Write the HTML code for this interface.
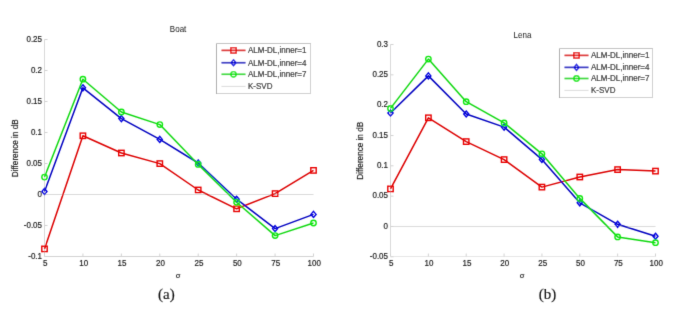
<!DOCTYPE html>
<html><head><meta charset="utf-8"><style>
html,body{margin:0;padding:0;background:#fff;}
svg{display:block;}
text{font-family:"Liberation Sans",sans-serif;font-size:8px;fill:#222;stroke:#222;stroke-width:0.18px;}
.ttl{stroke-width:0.02px;}
.cap{font-family:"Liberation Serif",serif;font-size:15px;fill:#111;stroke:#111;stroke-width:0.15px;}
</style></head><body>
<svg width="685" height="325" viewBox="0 0 685 325">
<defs><filter id="bl" filterUnits="userSpaceOnUse" x="0" y="0" width="685" height="325"><feConvolveMatrix order="3" kernelMatrix="1 8 1 8 64 8 1 8 1" divisor="100" edgeMode="none" preserveAlpha="false"/></filter></defs>
<rect width="685" height="325" fill="#fff"/>
<g filter="url(#bl)">
<line x1="44.5" y1="194.5" x2="313.5" y2="194.5" stroke="#dadada" stroke-width="1"/>
<path d="M44.5 39.5 V256.5" fill="none" stroke="#d8d8d8" stroke-width="1"/>
<path d="M44.5 256.5 H313.5" fill="none" stroke="#d2d2d2" stroke-width="1"/>
<line x1="44.5" y1="39.5" x2="47.5" y2="39.5" stroke="#d2d2d2" stroke-width="1"/>
<text transform="translate(42.00 41.70) scale(1.0 1.12)" text-anchor="end">0.25</text>
<line x1="44.5" y1="70.5" x2="47.5" y2="70.5" stroke="#d2d2d2" stroke-width="1"/>
<text transform="translate(42.00 72.70) scale(1.0 1.12)" text-anchor="end">0.2</text>
<line x1="44.5" y1="101.5" x2="47.5" y2="101.5" stroke="#d2d2d2" stroke-width="1"/>
<text transform="translate(42.00 103.70) scale(1.0 1.12)" text-anchor="end">0.15</text>
<line x1="44.5" y1="132.5" x2="47.5" y2="132.5" stroke="#d2d2d2" stroke-width="1"/>
<text transform="translate(42.00 134.70) scale(1.0 1.12)" text-anchor="end">0.1</text>
<line x1="44.5" y1="163.5" x2="47.5" y2="163.5" stroke="#d2d2d2" stroke-width="1"/>
<text transform="translate(42.00 165.70) scale(1.0 1.12)" text-anchor="end">0.05</text>
<line x1="44.5" y1="194.5" x2="47.5" y2="194.5" stroke="#d2d2d2" stroke-width="1"/>
<text transform="translate(42.00 196.70) scale(1.0 1.12)" text-anchor="end">0</text>
<line x1="44.5" y1="225.5" x2="47.5" y2="225.5" stroke="#d2d2d2" stroke-width="1"/>
<text transform="translate(42.00 227.70) scale(1.0 1.12)" text-anchor="end">-0.05</text>
<line x1="44.5" y1="256.5" x2="47.5" y2="256.5" stroke="#d2d2d2" stroke-width="1"/>
<text transform="translate(42.00 258.70) scale(1.0 1.12)" text-anchor="end">-0.1</text>
<line x1="44.5" y1="256.5" x2="44.5" y2="253.5" stroke="#d2d2d2" stroke-width="1"/>
<text transform="translate(45.20 265.90) scale(1.0 1.12)" text-anchor="middle">5</text>
<line x1="82.92857142857143" y1="256.5" x2="82.92857142857143" y2="253.5" stroke="#d2d2d2" stroke-width="1"/>
<text transform="translate(83.63 265.90) scale(1.0 1.12)" text-anchor="middle">10</text>
<line x1="121.35714285714286" y1="256.5" x2="121.35714285714286" y2="253.5" stroke="#d2d2d2" stroke-width="1"/>
<text transform="translate(122.06 265.90) scale(1.0 1.12)" text-anchor="middle">15</text>
<line x1="159.78571428571428" y1="256.5" x2="159.78571428571428" y2="253.5" stroke="#d2d2d2" stroke-width="1"/>
<text transform="translate(160.49 265.90) scale(1.0 1.12)" text-anchor="middle">20</text>
<line x1="198.21428571428572" y1="256.5" x2="198.21428571428572" y2="253.5" stroke="#d2d2d2" stroke-width="1"/>
<text transform="translate(198.91 265.90) scale(1.0 1.12)" text-anchor="middle">25</text>
<line x1="236.64285714285714" y1="256.5" x2="236.64285714285714" y2="253.5" stroke="#d2d2d2" stroke-width="1"/>
<text transform="translate(237.34 265.90) scale(1.0 1.12)" text-anchor="middle">50</text>
<line x1="275.07142857142856" y1="256.5" x2="275.07142857142856" y2="253.5" stroke="#d2d2d2" stroke-width="1"/>
<text transform="translate(275.77 265.90) scale(1.0 1.12)" text-anchor="middle">75</text>
<line x1="313.5" y1="256.5" x2="313.5" y2="253.5" stroke="#d2d2d2" stroke-width="1"/>
<text transform="translate(314.20 265.90) scale(1.0 1.12)" text-anchor="middle">100</text>
<text transform="translate(178.10 31.90) scale(1.0 1.12)" text-anchor="middle" class="ttl">Boat</text>
<text transform="translate(178.10 278.10) scale(0.95 0.95)" text-anchor="middle">&#963;</text>
<text transform="translate(17.7 148.3) rotate(-90) scale(1.02 1.04)" text-anchor="middle">Difference in dB</text>
<polyline points="44.5,248.9 82.9,135.8 121.4,153.0 159.8,163.6 198.2,190.0 236.6,208.8 275.1,193.6 313.5,170.4" fill="none" stroke="#dc0000" stroke-width="1.5" stroke-linejoin="round"/>
<rect x="41.8" y="246.2" width="5.4" height="5.4" fill="none" stroke="#e80000" stroke-width="1.4"/>
<rect x="80.2" y="133.1" width="5.4" height="5.4" fill="none" stroke="#e80000" stroke-width="1.4"/>
<rect x="118.7" y="150.3" width="5.4" height="5.4" fill="none" stroke="#e80000" stroke-width="1.4"/>
<rect x="157.1" y="160.9" width="5.4" height="5.4" fill="none" stroke="#e80000" stroke-width="1.4"/>
<rect x="195.5" y="187.3" width="5.4" height="5.4" fill="none" stroke="#e80000" stroke-width="1.4"/>
<rect x="233.9" y="206.1" width="5.4" height="5.4" fill="none" stroke="#e80000" stroke-width="1.4"/>
<rect x="272.4" y="190.9" width="5.4" height="5.4" fill="none" stroke="#e80000" stroke-width="1.4"/>
<rect x="310.8" y="167.7" width="5.4" height="5.4" fill="none" stroke="#e80000" stroke-width="1.4"/>
<polyline points="44.5,191.4 82.9,87.8 121.4,118.6 159.8,139.4 198.2,163.0 236.6,199.2 275.1,228.6 313.5,214.4" fill="none" stroke="#0000c0" stroke-width="1.5" stroke-linejoin="round"/>
<path d="M44.5 188.4 L47.0 191.4 L44.5 194.4 L42.0 191.4 Z" fill="none" stroke="#0000e0" stroke-width="1.4"/>
<path d="M82.9 84.8 L85.5 87.8 L82.9 90.8 L80.4 87.8 Z" fill="none" stroke="#0000e0" stroke-width="1.4"/>
<path d="M121.4 115.6 L123.9 118.6 L121.4 121.6 L118.8 118.6 Z" fill="none" stroke="#0000e0" stroke-width="1.4"/>
<path d="M159.8 136.4 L162.3 139.4 L159.8 142.4 L157.2 139.4 Z" fill="none" stroke="#0000e0" stroke-width="1.4"/>
<path d="M198.2 160.0 L200.8 163.0 L198.2 166.0 L195.7 163.0 Z" fill="none" stroke="#0000e0" stroke-width="1.4"/>
<path d="M236.6 196.2 L239.2 199.2 L236.6 202.2 L234.1 199.2 Z" fill="none" stroke="#0000e0" stroke-width="1.4"/>
<path d="M275.1 225.6 L277.6 228.6 L275.1 231.6 L272.5 228.6 Z" fill="none" stroke="#0000e0" stroke-width="1.4"/>
<path d="M313.5 211.4 L316.1 214.4 L313.5 217.4 L310.9 214.4 Z" fill="none" stroke="#0000e0" stroke-width="1.4"/>
<polyline points="44.5,177.1 82.9,79.2 121.4,112.0 159.8,124.6 198.2,164.4 236.6,202.3 275.1,235.6 313.5,223.0" fill="none" stroke="#10d810" stroke-width="1.5" stroke-linejoin="round"/>
<circle cx="44.5" cy="177.1" r="2.7" fill="none" stroke="#10e810" stroke-width="1.4"/>
<circle cx="82.9" cy="79.2" r="2.7" fill="none" stroke="#10e810" stroke-width="1.4"/>
<circle cx="121.4" cy="112.0" r="2.7" fill="none" stroke="#10e810" stroke-width="1.4"/>
<circle cx="159.8" cy="124.6" r="2.7" fill="none" stroke="#10e810" stroke-width="1.4"/>
<circle cx="198.2" cy="164.4" r="2.7" fill="none" stroke="#10e810" stroke-width="1.4"/>
<circle cx="236.6" cy="202.3" r="2.7" fill="none" stroke="#10e810" stroke-width="1.4"/>
<circle cx="275.1" cy="235.6" r="2.7" fill="none" stroke="#10e810" stroke-width="1.4"/>
<circle cx="313.5" cy="223.0" r="2.7" fill="none" stroke="#10e810" stroke-width="1.4"/>
<rect x="216.5" y="43.5" width="94.0" height="50.0" fill="#fff"/>
<path d="M216.5 94.0V43.5" stroke="#acacac" stroke-width="1"/>
<path d="M216.5 43.5H311.0" stroke="#c2c2c2" stroke-width="1"/>
<path d="M310.5 43.5V93.5M217.0 93.5H311.0" stroke="#cfcfcf" stroke-width="1"/>
<line x1="221.5" y1="50.4" x2="245.5" y2="50.4" stroke="#dc0000" stroke-width="1.6"/>
<rect x="230.8" y="47.7" width="5.4" height="5.4" fill="none" stroke="#e80000" stroke-width="1.4"/>
<text transform="translate(248.00 53.30) scale(1.0 1.12)">ALM-DL,inner=1</text>
<line x1="221.5" y1="62.7" x2="245.5" y2="62.7" stroke="#0000c0" stroke-width="1.6"/>
<path d="M233.5 59.7 L236.1 62.7 L233.5 65.7 L230.9 62.7 Z" fill="none" stroke="#0000e0" stroke-width="1.4"/>
<text transform="translate(248.00 65.60) scale(1.0 1.12)">ALM-DL,inner=4</text>
<line x1="221.5" y1="74.3" x2="245.5" y2="74.3" stroke="#10d810" stroke-width="1.6"/>
<circle cx="233.5" cy="74.3" r="2.7" fill="none" stroke="#10e810" stroke-width="1.4"/>
<text transform="translate(248.00 77.20) scale(1.0 1.12)">ALM-DL,inner=7</text>
<line x1="221.5" y1="86.4" x2="245.5" y2="86.4" stroke="#dadada" stroke-width="1"/>
<text transform="translate(248.00 89.30) scale(1.0 1.12)">K-SVD</text>
<line x1="390.5" y1="226.48" x2="655.5" y2="226.48" stroke="#dadada" stroke-width="1"/>
<path d="M390.5 44.5 V256.5" fill="none" stroke="#d8d8d8" stroke-width="1"/>
<path d="M390.5 256.5 H655.5" fill="none" stroke="#e6e6e6" stroke-width="1"/>
<line x1="390.5" y1="44.5" x2="393.5" y2="44.5" stroke="#d2d2d2" stroke-width="1"/>
<text transform="translate(388.00 46.70) scale(1.0 1.12)" text-anchor="end">0.3</text>
<line x1="390.5" y1="74.83" x2="393.5" y2="74.83" stroke="#d2d2d2" stroke-width="1"/>
<text transform="translate(388.00 77.03) scale(1.0 1.12)" text-anchor="end">0.25</text>
<line x1="390.5" y1="105.16" x2="393.5" y2="105.16" stroke="#d2d2d2" stroke-width="1"/>
<text transform="translate(388.00 107.36) scale(1.0 1.12)" text-anchor="end">0.2</text>
<line x1="390.5" y1="135.49" x2="393.5" y2="135.49" stroke="#d2d2d2" stroke-width="1"/>
<text transform="translate(388.00 137.69) scale(1.0 1.12)" text-anchor="end">0.15</text>
<line x1="390.5" y1="165.82" x2="393.5" y2="165.82" stroke="#d2d2d2" stroke-width="1"/>
<text transform="translate(388.00 168.02) scale(1.0 1.12)" text-anchor="end">0.1</text>
<line x1="390.5" y1="196.14999999999998" x2="393.5" y2="196.14999999999998" stroke="#d2d2d2" stroke-width="1"/>
<text transform="translate(388.00 198.35) scale(1.0 1.12)" text-anchor="end">0.05</text>
<line x1="390.5" y1="226.48" x2="393.5" y2="226.48" stroke="#d2d2d2" stroke-width="1"/>
<text transform="translate(388.00 228.68) scale(1.0 1.12)" text-anchor="end">0</text>
<line x1="390.5" y1="256.81" x2="393.5" y2="256.81" stroke="#d2d2d2" stroke-width="1"/>
<text transform="translate(388.00 259.01) scale(1.0 1.12)" text-anchor="end">-0.05</text>
<line x1="390.5" y1="256.5" x2="390.5" y2="253.5" stroke="#d2d2d2" stroke-width="1"/>
<text transform="translate(391.20 265.90) scale(1.0 1.12)" text-anchor="middle">5</text>
<line x1="428.35714285714283" y1="256.5" x2="428.35714285714283" y2="253.5" stroke="#d2d2d2" stroke-width="1"/>
<text transform="translate(429.06 265.90) scale(1.0 1.12)" text-anchor="middle">10</text>
<line x1="466.2142857142857" y1="256.5" x2="466.2142857142857" y2="253.5" stroke="#d2d2d2" stroke-width="1"/>
<text transform="translate(466.91 265.90) scale(1.0 1.12)" text-anchor="middle">15</text>
<line x1="504.07142857142856" y1="256.5" x2="504.07142857142856" y2="253.5" stroke="#d2d2d2" stroke-width="1"/>
<text transform="translate(504.77 265.90) scale(1.0 1.12)" text-anchor="middle">20</text>
<line x1="541.9285714285714" y1="256.5" x2="541.9285714285714" y2="253.5" stroke="#d2d2d2" stroke-width="1"/>
<text transform="translate(542.63 265.90) scale(1.0 1.12)" text-anchor="middle">25</text>
<line x1="579.7857142857142" y1="256.5" x2="579.7857142857142" y2="253.5" stroke="#d2d2d2" stroke-width="1"/>
<text transform="translate(580.49 265.90) scale(1.0 1.12)" text-anchor="middle">50</text>
<line x1="617.6428571428571" y1="256.5" x2="617.6428571428571" y2="253.5" stroke="#d2d2d2" stroke-width="1"/>
<text transform="translate(618.34 265.90) scale(1.0 1.12)" text-anchor="middle">75</text>
<line x1="655.5" y1="256.5" x2="655.5" y2="253.5" stroke="#d2d2d2" stroke-width="1"/>
<text transform="translate(656.20 265.90) scale(1.0 1.12)" text-anchor="middle">100</text>
<text transform="translate(522.50 37.90) scale(1.0 1.12)" text-anchor="middle" class="ttl">Lena</text>
<text transform="translate(522.10 278.10) scale(0.95 0.95)" text-anchor="middle">&#963;</text>
<text transform="translate(363.3 150.8) rotate(-90) scale(1.02 1.04)" text-anchor="middle">Difference in dB</text>
<polyline points="390.5,188.9 428.4,117.8 466.2,141.6 504.1,159.6 541.9,187.1 579.8,177.0 617.6,169.6 655.5,171.1" fill="none" stroke="#dc0000" stroke-width="1.5" stroke-linejoin="round"/>
<rect x="387.8" y="186.2" width="5.4" height="5.4" fill="none" stroke="#e80000" stroke-width="1.4"/>
<rect x="425.7" y="115.1" width="5.4" height="5.4" fill="none" stroke="#e80000" stroke-width="1.4"/>
<rect x="463.5" y="138.9" width="5.4" height="5.4" fill="none" stroke="#e80000" stroke-width="1.4"/>
<rect x="501.4" y="156.9" width="5.4" height="5.4" fill="none" stroke="#e80000" stroke-width="1.4"/>
<rect x="539.2" y="184.4" width="5.4" height="5.4" fill="none" stroke="#e80000" stroke-width="1.4"/>
<rect x="577.1" y="174.3" width="5.4" height="5.4" fill="none" stroke="#e80000" stroke-width="1.4"/>
<rect x="614.9" y="166.9" width="5.4" height="5.4" fill="none" stroke="#e80000" stroke-width="1.4"/>
<rect x="652.8" y="168.4" width="5.4" height="5.4" fill="none" stroke="#e80000" stroke-width="1.4"/>
<polyline points="390.5,113.0 428.4,75.9 466.2,114.0 504.1,127.1 541.9,159.4 579.8,202.8 617.6,224.3 655.5,236.3" fill="none" stroke="#0000c0" stroke-width="1.5" stroke-linejoin="round"/>
<path d="M390.5 110.0 L393.1 113.0 L390.5 116.0 L387.9 113.0 Z" fill="none" stroke="#0000e0" stroke-width="1.4"/>
<path d="M428.4 72.9 L430.9 75.9 L428.4 78.9 L425.8 75.9 Z" fill="none" stroke="#0000e0" stroke-width="1.4"/>
<path d="M466.2 111.0 L468.8 114.0 L466.2 117.0 L463.7 114.0 Z" fill="none" stroke="#0000e0" stroke-width="1.4"/>
<path d="M504.1 124.1 L506.6 127.1 L504.1 130.1 L501.5 127.1 Z" fill="none" stroke="#0000e0" stroke-width="1.4"/>
<path d="M541.9 156.4 L544.5 159.4 L541.9 162.4 L539.4 159.4 Z" fill="none" stroke="#0000e0" stroke-width="1.4"/>
<path d="M579.8 199.8 L582.3 202.8 L579.8 205.8 L577.2 202.8 Z" fill="none" stroke="#0000e0" stroke-width="1.4"/>
<path d="M617.6 221.3 L620.2 224.3 L617.6 227.3 L615.1 224.3 Z" fill="none" stroke="#0000e0" stroke-width="1.4"/>
<path d="M655.5 233.3 L658.0 236.3 L655.5 239.3 L653.0 236.3 Z" fill="none" stroke="#0000e0" stroke-width="1.4"/>
<polyline points="390.5,108.4 428.4,59.1 466.2,101.7 504.1,122.9 541.9,153.8 579.8,198.4 617.6,236.9 655.5,242.7" fill="none" stroke="#10d810" stroke-width="1.5" stroke-linejoin="round"/>
<circle cx="390.5" cy="108.4" r="2.7" fill="none" stroke="#10e810" stroke-width="1.4"/>
<circle cx="428.4" cy="59.1" r="2.7" fill="none" stroke="#10e810" stroke-width="1.4"/>
<circle cx="466.2" cy="101.7" r="2.7" fill="none" stroke="#10e810" stroke-width="1.4"/>
<circle cx="504.1" cy="122.9" r="2.7" fill="none" stroke="#10e810" stroke-width="1.4"/>
<circle cx="541.9" cy="153.8" r="2.7" fill="none" stroke="#10e810" stroke-width="1.4"/>
<circle cx="579.8" cy="198.4" r="2.7" fill="none" stroke="#10e810" stroke-width="1.4"/>
<circle cx="617.6" cy="236.9" r="2.7" fill="none" stroke="#10e810" stroke-width="1.4"/>
<circle cx="655.5" cy="242.7" r="2.7" fill="none" stroke="#10e810" stroke-width="1.4"/>
<rect x="559.5" y="48.5" width="93.0" height="49.0" fill="#fff"/>
<path d="M559.5 98.0V48.5" stroke="#acacac" stroke-width="1"/>
<path d="M559.5 48.5H653.0" stroke="#c2c2c2" stroke-width="1"/>
<path d="M652.5 48.5V97.5M560.0 97.5H653.0" stroke="#cfcfcf" stroke-width="1"/>
<line x1="564.5" y1="55.4" x2="588.5" y2="55.4" stroke="#dc0000" stroke-width="1.6"/>
<rect x="573.8" y="52.7" width="5.4" height="5.4" fill="none" stroke="#e80000" stroke-width="1.4"/>
<text transform="translate(591.00 58.30) scale(1.0 1.12)">ALM-DL,inner=1</text>
<line x1="564.5" y1="67.4" x2="588.5" y2="67.4" stroke="#0000c0" stroke-width="1.6"/>
<path d="M576.5 64.4 L579.0 67.4 L576.5 70.4 L574.0 67.4 Z" fill="none" stroke="#0000e0" stroke-width="1.4"/>
<text transform="translate(591.00 70.30) scale(1.0 1.12)">ALM-DL,inner=4</text>
<line x1="564.5" y1="78.5" x2="588.5" y2="78.5" stroke="#10d810" stroke-width="1.6"/>
<circle cx="576.5" cy="78.5" r="2.7" fill="none" stroke="#10e810" stroke-width="1.4"/>
<text transform="translate(591.00 81.40) scale(1.0 1.12)">ALM-DL,inner=7</text>
<line x1="564.5" y1="90.4" x2="588.5" y2="90.4" stroke="#dadada" stroke-width="1"/>
<text transform="translate(591.00 93.30) scale(1.0 1.12)">K-SVD</text>
<text class="cap" x="166.4" y="299.4" text-anchor="middle">(a)</text>
<text class="cap" x="547.5" y="299.4" text-anchor="middle">(b)</text>
</g>
</svg>
</body></html>
